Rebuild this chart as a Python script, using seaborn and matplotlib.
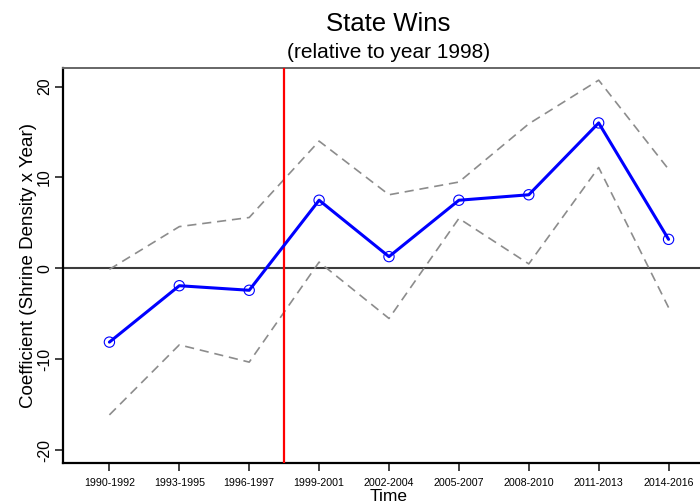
import pandas as pd
import matplotlib
matplotlib.use("Agg")
import matplotlib.pyplot as plt
import seaborn as sns

# Values
periods = ["1990-1992", "1993-1995", "1996-1997", "1999-2001", "2002-2004",
           "2005-2007", "2008-2010", "2011-2013", "2014-2016"]
coef = [-8.1, -1.9, -2.4, 7.5, 1.3, 7.5, 8.1, 16.0, 3.2]
ci_upper = [-0.1, 4.6, 5.6, 14.0, 8.1, 9.5, 15.9, 20.7, 10.9]
ci_lower = [-16.1, -8.4, -10.3, 0.7, -5.5, 5.5, 0.5, 11.1, -4.3]
reference_after = "1999-2001"  # first period after the 1998 baseline

df = pd.DataFrame({"period": periods, "coef": coef,
                   "upper": ci_upper, "lower": ci_lower})
df["pos"] = range(len(df))

sns.set_style("white")
plt.rcParams["font.family"] = ["Liberation Sans", "DejaVu Sans"]
plt.rcParams["text.color"] = "black"
plt.rcParams["axes.labelcolor"] = "black"
plt.rcParams["xtick.color"] = "black"
plt.rcParams["ytick.color"] = "black"

fig = plt.figure(figsize=(7, 5.04), dpi=100)
ax = fig.add_axes([0.0904, 0.0819, 0.9306, 0.7825])

# confidence bounds
for col in ["upper", "lower"]:
    sns.lineplot(data=df, x="pos", y=col, ax=ax, color="#8c8c8c", lw=1.2,
                 dashes=False, linestyle=(0, (5.5, 3.5)), zorder=2)

ax.axhline(0, color="#3c3c3c", lw=1.5, zorder=1)
ax.axvline(periods.index(reference_after) - 0.5, color="red", lw=1.6, zorder=3)

sns.lineplot(data=df, x="pos", y="coef", ax=ax, color="blue", lw=2.2, zorder=4)
sns.scatterplot(data=df, x="pos", y="coef", ax=ax, marker="o", s=55,
                facecolor="none", edgecolor="blue", linewidth=0.8, zorder=5)

ax.set_xlim(-0.66, 8.66)
ax.set_ylim(-21.36, 22.0)
ax.set_xticks(df["pos"])
ax.set_xticklabels(periods, fontsize=7.7)
ax.set_yticks([-20, -10, 0, 10, 20])
ax.set_yticklabels(["-20", "-10", "0", "10", "20"], fontsize=11.5,
                   rotation=90, va="center")
ax.tick_params(axis="both", direction="out", length=6, width=1.2,
               color="#222222", left=True, bottom=True)
ax.tick_params(axis="x", pad=5)
ax.tick_params(axis="y", pad=2)

for side in ["left", "bottom"]:
    ax.spines[side].set_color("black")
    ax.spines[side].set_linewidth(1.6)
ax.spines["top"].set_color("#666666")
ax.spines["top"].set_linewidth(1.4)
ax.spines["right"].set_visible(False)

ax.set_xlabel("Time", fontsize=12.5, labelpad=1)
ax.set_ylabel("Coefficient (Shrine Density x Year)", fontsize=13.5, labelpad=0)

fig.text(0.555, 0.953, "State Wins", fontsize=18.5, ha="center", va="center")
fig.text(0.555, 0.895, "(relative to year 1998)", fontsize=15, ha="center",
         va="center")

fig.savefig("out.png", dpi=100)
